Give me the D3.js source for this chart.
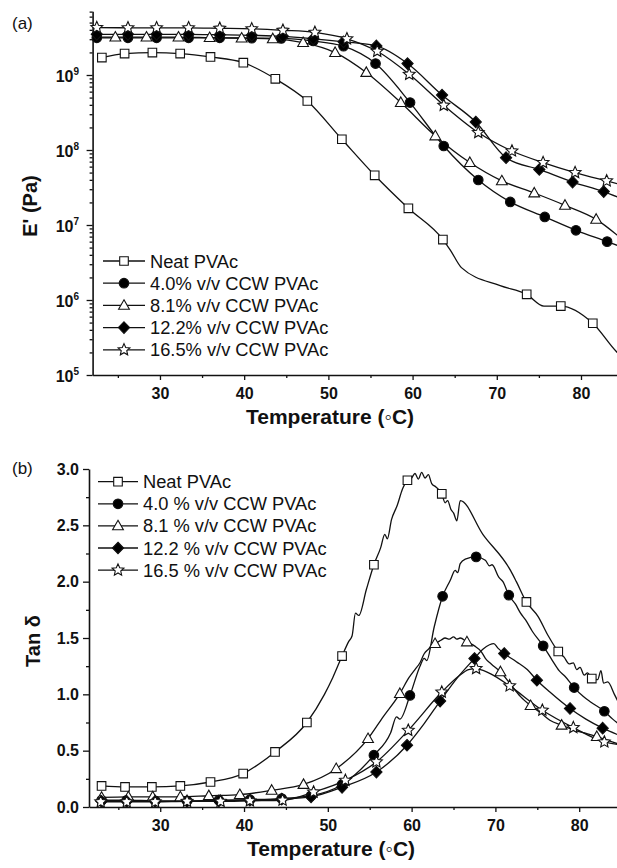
<!DOCTYPE html>
<html><head><meta charset="utf-8">
<script src="https://cdn.jsdelivr.net/npm/d3@7"></script>
<style>
body{margin:0;background:#fff;}
svg{display:block;font-family:"Liberation Sans",Arial,sans-serif;}
</style></head><body>
<svg id="chart" width="617" height="868"></svg>
<script>
// ---------------- data ----------------
const legendA = ["Neat PVAc","4.0% v/v CCW PVAc","8.1% v/v CCW PVAc","12.2% v/v CCW PVAc","16.5% v/v CCW PVAc"];
const legendB = ["Neat PVAc","4.0 % v/v CCW PVAc","8.1 % v/v CCW PVAc","12.2 % v/v CCW PVAc","16.5 % v/v CCW PVAc"];
const xTicks = [30,40,50,60,70,80];
const xMinorTicks = [25,35,45,55,65,75];
const eTicks = [1e5,1e6,1e7,1e8,1e9];
const tanTicks = [0,0.5,1.0,1.5,2.0,2.5,3.0];
const tanMinorTicks = [0.25,0.75,1.25,1.75,2.25,2.75];

// E' (Pa) vs temperature: [T, E', marker]
const eNeat = [[23.1,1.71e9,1],[25.8,1.93e9,1],[29.1,1.99e9,1],[32.4,1.93e9,1],[36.0,1.74e9,1],[39.9,1.46e9,1],[43.7,8.9e8,1],[47.5,4.5e8,1],[51.6,1.39e8,1],[55.5,4.6e7,1],[59.5,1.67e7,1],[63.6,6.4e6,1],[64.5,4.6e6,0],[65.8,2.7e6,0],[70.4,1.55e6,0],[73.55,1.19e6,1],[75.6,8.3e5,0],[77.6,8.3e5,1],[81.4,4.9e5,1],[84.3,2.0e5,0],[85,1.7e5,0]];
const e40 = [[22.5,3.13e9,1],[26.2,3.13e9,1],[29.6,3.13e9,1],[33.4,3.13e9,1],[37.1,3.13e9,1],[40.9,3.1e9,1],[44.4,3.08e9,1],[48.2,2.84e9,1],[51.8,2.42e9,1],[55.6,1.42e9,1],[59.7,4.29e8,1],[63.7,1.13e8,1],[67.8,3.98e7,1],[71.6,2.03e7,1],[75.7,1.28e7,1],[79.4,8.5e6,1],[83.1,6.0e6,1],[85,5.0e6,0]];
const e81 = [[22.5,3.2e9,0],[24.7,3.2e9,1],[28.4,3.2e9,1],[32.2,3.2e9,1],[35.9,3.15e9,1],[39.7,3.1e9,1],[43.4,3.04e9,1],[47.0,2.70e9,1],[50.8,1.99e9,1],[54.5,1.08e9,1],[58.6,4.29e8,1],[62.7,1.54e8,1],[66.8,6.8e7,1],[70.6,3.87e7,1],[74.45,2.67e7,1],[78.1,1.83e7,1],[81.8,1.19e7,1],[85,6.3e6,0]];
const e122 = [[22.5,3.49e9,1],[26.2,3.49e9,1],[29.6,3.49e9,1],[33.4,3.49e9,1],[37.1,3.44e9,1],[40.9,3.38e9,1],[44.6,3.28e9,1],[48.2,3.04e9,1],[51.8,2.77e9,1],[55.7,2.44e9,1],[59.4,1.42e9,1],[63.5,5.4e8,1],[67.5,2.36e8,1],[71.1,7.9e7,1],[75.05,5.5e7,1],[79.0,3.74e7,1],[82.7,2.79e7,1],[85,2.2e7,0]];
const e165 = [[22.5,4.29e9,1],[26.2,4.26e9,1],[29.6,4.26e9,1],[33.4,4.26e9,1],[37.1,4.2e9,1],[40.9,4.13e9,1],[44.6,3.95e9,1],[48.4,3.7e9,1],[52.2,3.04e9,1],[55.8,2.07e9,1],[59.6,1.02e9,1],[63.7,3.95e8,1],[67.8,1.71e8,1],[71.8,9.7e7,1],[75.5,6.8e7,1],[79.3,5.0e7,1],[83.05,3.87e7,1],[85,3.4e7,0]];

// Tan delta vs temperature: [T, tan, marker]
const tNeat = [[23.0,0.187,1],[25.8,0.178,1],[29.0,0.178,1],[32.4,0.187,1],[36.0,0.222,1],[39.9,0.297,1],[43.7,0.489,1],[47.5,0.75,1],[49.6,1.0,0],[50.6,1.15,0],[51.7,1.34,1],[52.5,1.47,0],[52.9,1.52,0],[53.3,1.72,0],[53.7,1.70,0],[54.6,1.93,0],[55.5,2.15,1],[56.3,2.30,0],[56.8,2.42,0],[57.1,2.38,0],[57.6,2.55,0],[58.3,2.68,0],[58.9,2.82,0],[59.5,2.90,1],[60.0,2.92,0],[60.4,2.96,0],[60.8,2.91,0],[61.2,2.97,0],[61.6,2.92,0],[62.0,2.95,0],[62.4,2.87,0],[62.9,2.84,0],[63.6,2.78,1],[64.0,2.70,0],[64.3,2.72,0],[64.7,2.64,0],[65.0,2.61,0],[65.4,2.54,0],[65.8,2.72,0],[68.5,2.42,0],[71.8,2.10,0],[72.5,2.00,0],[73.7,1.82,1],[75.1,1.69,0],[76.3,1.52,0],[77.5,1.38,1],[78.2,1.33,0],[78.8,1.27,0],[79.3,1.28,0],[79.7,1.22,0],[80.1,1.24,0],[80.6,1.17,0],[81.0,1.19,0],[81.5,1.14,1],[82.2,1.13,0],[82.6,1.21,0],[82.9,1.10,0],[83.4,1.11,0],[84.2,1.0,0],[85,0.88,0]];
const t40 = [[23.0,0.06,1],[26.0,0.06,1],[29.4,0.055,1],[33.2,0.055,1],[37.0,0.06,1],[40.7,0.065,1],[44.5,0.075,1],[48.0,0.10,1],[51.7,0.20,1],[55.5,0.46,1],[57.5,0.66,0],[58.2,0.80,0],[58.6,0.78,0],[59.8,0.99,1],[61.0,1.25,0],[61.5,1.32,0],[61.8,1.30,0],[62.7,1.60,0],[63.7,1.87,1],[64.6,2.01,0],[65.2,2.10,0],[65.5,2.08,0],[65.8,2.16,0],[66.4,2.20,0],[67.7,2.22,1],[68.8,2.19,0],[69.3,2.14,0],[69.6,2.15,0],[70.4,2.04,0],[70.9,2.00,0],[71.6,1.88,1],[72.4,1.80,0],[73.0,1.72,0],[73.6,1.66,0],[74.4,1.56,0],[75.7,1.43,1],[76.8,1.30,0],[77.6,1.21,0],[78.3,1.16,0],[79.4,1.06,1],[80.5,0.98,0],[81.4,0.93,0],[83.0,0.85,1],[84.0,0.78,0],[85,0.72,0]];
const t81 = [[23.0,0.085,1],[26.2,0.09,1],[29.1,0.09,1],[32.4,0.09,1],[35.8,0.10,1],[39.5,0.11,1],[43.3,0.148,1],[47.1,0.20,1],[51.0,0.34,1],[54.8,0.607,1],[56.6,0.80,0],[58.6,1.007,1],[59.7,1.15,0],[60.4,1.22,0],[61.0,1.28,0],[61.5,1.36,0],[62.0,1.40,0],[62.8,1.45,1],[63.5,1.48,0],[64.0,1.50,0],[64.5,1.49,0],[65.0,1.51,0],[65.4,1.49,0],[65.8,1.50,0],[66.6,1.465,1],[67.5,1.43,0],[68.3,1.38,0],[68.8,1.32,0],[69.5,1.27,0],[70.6,1.20,1],[72.0,1.07,0],[73.0,0.98,0],[74.2,0.90,1],[75.5,0.83,0],[76.5,0.77,0],[77.9,0.726,1],[79.5,0.68,0],[81.0,0.65,0],[82.1,0.625,1],[83.5,0.59,0],[85,0.55,0]];
const t122 = [[23.0,0.05,1],[26.0,0.05,1],[29.4,0.05,1],[33.2,0.05,1],[37.0,0.055,1],[40.7,0.06,1],[44.5,0.07,1],[48.0,0.09,1],[51.7,0.175,1],[55.8,0.31,1],[59.45,0.548,1],[61.5,0.74,0],[63.4,0.94,1],[65.5,1.15,0],[67.5,1.318,1],[68.5,1.40,0],[69.3,1.44,0],[69.8,1.45,0],[70.3,1.41,0],[71.05,1.362,1],[72.5,1.29,0],[73.8,1.22,0],[74.95,1.125,1],[76.5,1.02,0],[78.9,0.874,1],[80.8,0.78,0],[82.8,0.70,1],[85,0.63,0]];
const t165 = [[22.9,0.045,1],[26.0,0.045,1],[29.4,0.045,1],[33.2,0.05,1],[37.2,0.05,1],[40.7,0.055,1],[44.6,0.06,1],[48.3,0.133,1],[52.1,0.237,1],[55.8,0.40,1],[59.6,0.681,1],[63.6,1.02,1],[65.6,1.16,0],[66.8,1.22,0],[67.7,1.229,1],[68.6,1.21,0],[69.5,1.18,0],[71.7,1.075,1],[75.6,0.859,1],[79.3,0.705,1],[83.0,0.577,1],[85,0.55,0]];

// ---------------- styles ----------------
const markerTypes = ["square","circle","triangle","diamond","star"];
const markerFills = ["#fff","#000","#fff","#000","#fff"];
const ink = "#111";

function markerPath(type){
  switch(type){
    case "square": return "M-4.3,-4.3H4.3V4.3H-4.3Z";
    case "circle": return "M4.8,0A4.8,4.8 0 1,1 -4.8,0A4.8,4.8 0 1,1 4.8,0Z";
    case "triangle": return "M0,-5.6L5.4,3.9H-5.4Z";
    case "diamond": return "M0,-5.8L5.6,0L0,5.8L-5.6,0Z";
    case "star": {
      let p=[]; const R=6.2, r=2.9;
      for(let i=0;i<10;i++){const a=-Math.PI/2+i*Math.PI/5; const rr=i%2?r:R; p.push([rr*Math.cos(a),rr*Math.sin(a)]);}
      return "M"+p.map(d=>d[0].toFixed(2)+","+d[1].toFixed(2)).join("L")+"Z";
    }
  }
}

const svg = d3.select("#chart");
svg.append("rect").attr("width",617).attr("height",868).attr("fill","#fff");

function drawPanel(cfg){
  const g = svg.append("g");
  const {x,y,series,legend,leg} = cfg;
  const line = d3.line().x(d=>x(d[0])).y(d=>y(d[1])).curve(d3.curveMonotoneX);
  series.forEach((s,i)=>{
    g.append("path").datum(s).attr("d",line).attr("fill","none").attr("stroke",ink).attr("stroke-width",1.3).attr("stroke-linejoin","round");
  });
  series.forEach((s,i)=>{
    g.selectAll(null).data(s.filter(d=>d[2])).enter().append("path")
      .attr("d",markerPath(markerTypes[i]))
      .attr("transform",d=>`translate(${x(d[0])},${y(d[1])})`)
      .attr("fill",markerFills[i]).attr("stroke",ink).attr("stroke-width",1.1);
  });
  legend.forEach((name,i)=>{
    const yy = leg.y0 + i*leg.dy;
    g.append("line").attr("x1",leg.x1).attr("x2",leg.x2).attr("y1",yy).attr("y2",yy).attr("stroke",ink).attr("stroke-width",1.3);
    g.append("path").attr("d",markerPath(markerTypes[i])).attr("transform",`translate(${(leg.x1+leg.x2)/2},${yy})`)
      .attr("fill",markerFills[i]).attr("stroke",ink).attr("stroke-width",1.1);
    g.append("text").attr("x",leg.tx).attr("y",yy).attr("dy","0.36em").attr("font-size",18.3).attr("fill",ink).text(name);
  });
  return g;
}

function styleAxis(sel){
  sel.selectAll(".domain").attr("stroke",ink).attr("stroke-width",1.6);
  sel.selectAll(".tick line").attr("stroke",ink).attr("stroke-width",1.3);
  sel.selectAll(".tick text").attr("fill",ink).attr("font-size",16).attr("font-weight","bold").attr("font-family","'Liberation Sans',Arial,sans-serif");
}

// ---------------- panel (a) ----------------
const xA = d3.scaleLinear().domain([22,85]).range([92.6,623.1]);
const yA = d3.scaleLog().domain([1e5, Math.pow(10,9.85)]).range([375,11.25]);

const gxA = svg.append("g").attr("transform","translate(0,375)")
  .call(d3.axisBottom(xA).tickValues(xTicks).tickSize(5).tickSizeOuter(0).tickPadding(8).tickFormat(d3.format("d")));
styleAxis(gxA);
const gxAm = svg.append("g").attr("transform","translate(0,375)")
  .call(d3.axisBottom(xA).tickValues(xMinorTicks).tickSize(3).tickFormat(""));
gxAm.select(".domain").remove(); styleAxis(gxAm);

const minorE = [];
for(let e=5;e<=9;e++){ for(let k=2;k<=9;k++){ const v=k*Math.pow(10,e); if(v<=yA.domain()[1]) minorE.push(v);} }
const gyA = svg.append("g").attr("transform","translate(92.6,0)")
  .call(d3.axisLeft(yA).tickValues(eTicks).tickSize(6).tickSizeOuter(0).tickFormat(""));
styleAxis(gyA);
const gyAm = svg.append("g").attr("transform","translate(92.6,0)")
  .call(d3.axisLeft(yA).tickValues(minorE).tickSize(3).tickFormat(""));
gyAm.select(".domain").remove(); styleAxis(gyAm);
eTicks.forEach(v=>{
  const t = svg.append("text").attr("x",79).attr("y",yA(v)).attr("dy","0.42em").attr("text-anchor","end")
    .attr("font-size",16).attr("font-weight","bold").attr("fill",ink);
  t.append("tspan").text("10");
  t.append("tspan").attr("font-size",10).attr("dy","-7").text(Math.round(Math.log10(v)));
});

drawPanel({x:xA,y:yA,series:[eNeat,e40,e81,e122,e165],legend:legendA,
  leg:{x1:103,x2:145,tx:150,y0:261,dy:22.2}});

svg.append("text").attr("x",330).attr("y",424).attr("text-anchor","middle").attr("font-size",21).attr("font-weight","bold").attr("fill",ink).text("Temperature (\u25E6C)");
svg.append("text").attr("transform","translate(37,206) rotate(-90)").attr("text-anchor","middle").attr("font-size",20).attr("font-weight","bold").attr("fill",ink).text("E' (Pa)");
svg.append("text").attr("x",12).attr("y",29).attr("font-size",17).attr("fill",ink).text("(a)");

// ---------------- panel (b) ----------------
const xB = d3.scaleLinear().domain([21.5,85]).range([89,621.1]);
const yB = d3.scaleLinear().domain([0,3]).range([807,469]);

const gxB = svg.append("g").attr("transform","translate(0,807)")
  .call(d3.axisBottom(xB).tickValues(xTicks).tickSize(5).tickSizeOuter(0).tickPadding(8).tickFormat(d3.format("d")));
styleAxis(gxB);
const gxBm = svg.append("g").attr("transform","translate(0,807)")
  .call(d3.axisBottom(xB).tickValues(xMinorTicks).tickSize(3).tickFormat(""));
gxBm.select(".domain").remove(); styleAxis(gxBm);
const gyB = svg.append("g").attr("transform","translate(89,0)")
  .call(d3.axisLeft(yB).tickValues(tanTicks).tickSize(6).tickSizeOuter(0).tickPadding(4).tickFormat(d3.format(".1f")));
styleAxis(gyB);
const gyBm = svg.append("g").attr("transform","translate(89,0)")
  .call(d3.axisLeft(yB).tickValues(tanMinorTicks).tickSize(3).tickFormat(""));
gyBm.select(".domain").remove(); styleAxis(gyBm);

drawPanel({x:xB,y:yB,series:[tNeat,t40,t81,t122,t165],legend:legendB,
  leg:{x1:98,x2:138,tx:143,y0:481.7,dy:22.1}});

svg.append("text").attr("x",331).attr("y",856).attr("text-anchor","middle").attr("font-size",21).attr("font-weight","bold").attr("fill",ink).text("Temperature (\u25E6C)");
svg.append("text").attr("transform","translate(40,641) rotate(-90)").attr("text-anchor","middle").attr("font-size",20).attr("font-weight","bold").attr("fill",ink).text("Tan \u03B4");
svg.append("text").attr("x",12).attr("y",474).attr("font-size",17).attr("fill",ink).text("(b)");
</script>
</body></html>
